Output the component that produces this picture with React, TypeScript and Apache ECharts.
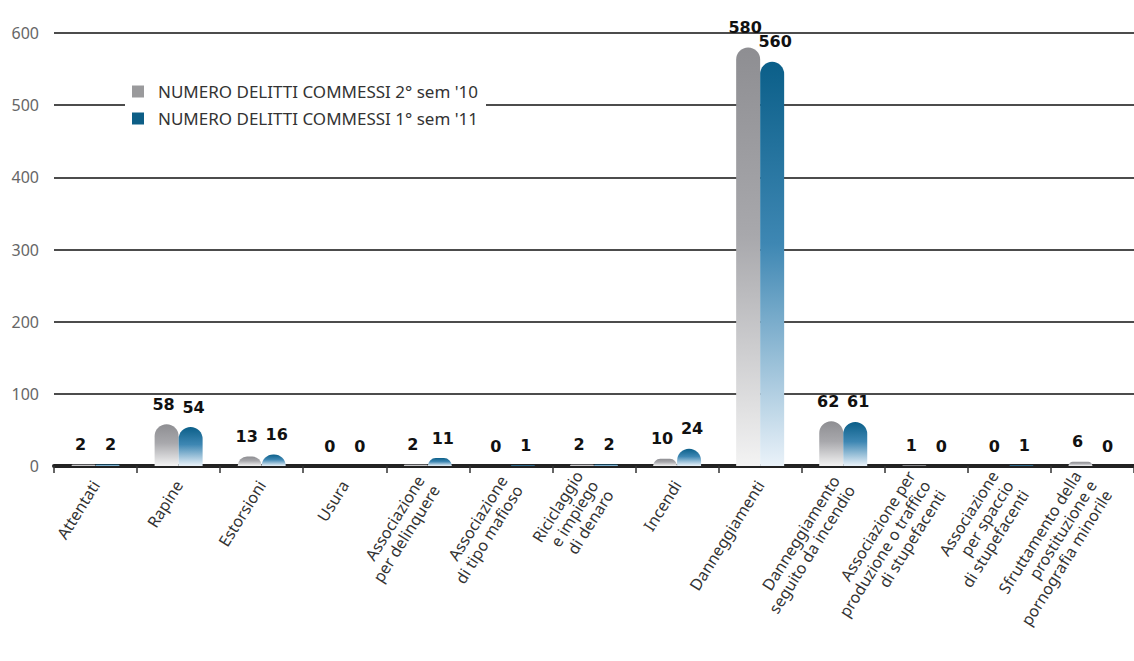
import React, { useEffect, useRef } from "react";
import * as echarts from "echarts";

const categories = [
  "Attentati",
  "Rapine",
  "Estorsioni",
  "Usura",
  "Associazione\nper delinquere",
  "Associazione\ndi tipo mafioso",
  "Riciclaggio\ne impiego\ndi denaro",
  "Incendi",
  "Danneggiamenti",
  "Danneggiamento\nseguito da incendio",
  "Associazione per\nproduzione o traffico\ndi stupefacenti",
  "Associazione\nper spaccio\ndi stupefacenti",
  "Sfruttamento della\nprostituzione e\npornografia minorile",
];
const seriesNames = [
  "NUMERO DELITTI COMMESSI 2° sem '10",
  "NUMERO DELITTI COMMESSI 1° sem '11",
];
const sem2_10 = [2, 58, 13, 0, 2, 0, 2, 10, 580, 62, 1, 0, 6];
const sem1_11 = [2, 54, 16, 0, 11, 1, 2, 24, 560, 61, 0, 1, 0];
const yTicks = [0, 100, 200, 300, 400, 500, 600];

const grayGrad = new echarts.graphic.LinearGradient(0, 0, 0, 1, [
  { offset: 0, color: "#8e8e92" },
  { offset: 0.45, color: "#a8a8ac" },
  { offset: 1, color: "#f3f3f3" },
]);
const blueGrad = new echarts.graphic.LinearGradient(0, 0, 0, 1, [
  { offset: 0, color: "#0b5f89" },
  { offset: 0.45, color: "#3e87b3" },
  { offset: 1, color: "#eaf2f9" },
]);

const labelBase = {
  show: true,
  position: "top" as const,
  distance: 12,
  fontFamily: "DejaVu Sans",
  fontWeight: "bold" as const,
  fontSize: 16,
  color: "#111",
};

export default function App() {
  const ref = useRef<HTMLDivElement>(null);
  useEffect(() => {
    if (!ref.current) return;
    const chart = echarts.init(ref.current, null, { renderer: "svg" });
    chart.setOption({
      animation: false,
      backgroundColor: "#fff",
      textStyle: { fontFamily: "Noto Sans" },
      grid: { left: 54, right: 0, top: 33, bottom: 195, containLabel: false },
      legend: {
        orient: "vertical",
        left: 125,
        top: 77,
        padding: [6, 8, 6, 7],
        backgroundColor: "#fff",
        itemWidth: 12,
        itemHeight: 12,
        itemGap: 10,
        icon: "rect",
        textStyle: { fontSize: 17, color: "#333", padding: [0, 0, 0, 9], fontFamily: "Noto Sans" },
        data: [
          { name: seriesNames[0], itemStyle: { color: "#9a9a9c" } },
          { name: seriesNames[1], itemStyle: { color: "#0d5e86" } },
        ],
      },
      xAxis: {
        type: "category",
        data: categories,
        axisLine: { show: true, lineStyle: { color: "#222", width: 4 } },
        axisTick: { show: true, length: 7, lineStyle: { color: "#333", width: 1.5 } },
        axisLabel: {
          interval: 0,
          rotate: 58,
          margin: 16,
          fontSize: 16,
          lineHeight: 18,
          color: "#333",
          fontFamily: "Noto Sans",
        },
      },
      yAxis: {
        type: "value",
        min: yTicks[0],
        max: yTicks[yTicks.length - 1],
        interval: 100,
        axisLine: { show: false },
        axisTick: { show: false },
        axisLabel: { margin: 15, fontSize: 16, color: "#666", fontFamily: "Noto Sans" },
        splitLine: { show: true, lineStyle: { color: "#111", width: 1.5 } },
      },
      series: [
        {
          name: seriesNames[0],
          type: "bar",
          data: sem2_10,
          barWidth: 24,
          barGap: "0%",
          itemStyle: { color: grayGrad, borderRadius: [12, 12, 0, 0] },
          label: { ...labelBase, offset: [-3, 0] },
        },
        {
          name: seriesNames[1],
          type: "bar",
          data: sem1_11,
          barWidth: 24,
          itemStyle: { color: blueGrad, borderRadius: [12, 12, 0, 0] },
          label: { ...labelBase, offset: [3, 0] },
        },
      ],
    });
    return () => chart.dispose();
  }, []);
  return <div ref={ref} style={{ width: 1134, height: 661, position: "absolute", left: 0, top: 0 }} />;
}
